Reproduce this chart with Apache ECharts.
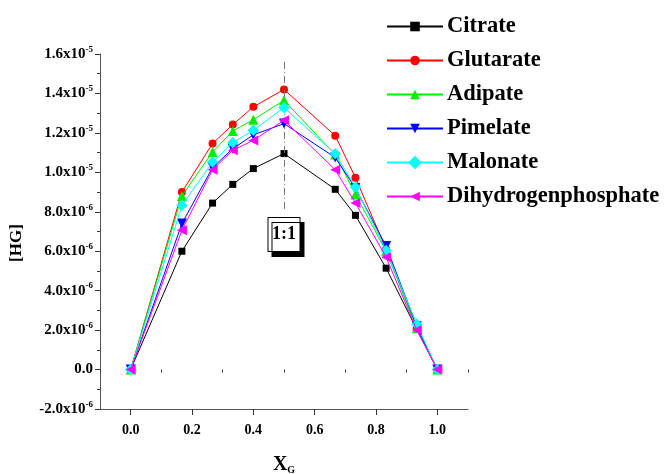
<!DOCTYPE html>
<html><head><meta charset="utf-8">
<script src="https://cdn.jsdelivr.net/npm/echarts@6/dist/echarts.min.js"></script>
<style>html,body{margin:0;padding:0;background:#fff}#c{width:669px;height:474px}</style>
</head><body><div id="c"></div>
<script>
const xG = [0, 0.167, 0.267, 0.333, 0.4, 0.5, 0.667, 0.733, 0.833, 0.933, 1.0];
const citrate   = [0, 6.0e-6, 8.44e-6, 9.39e-6, 10.19e-6, 10.95e-6, 9.14e-6, 7.82e-6, 5.14e-6, 2.03e-6, 0];
const glutarate = [0, 9.0e-6, 11.46e-6, 12.42e-6, 13.32e-6, 14.2e-6, 11.86e-6, 9.73e-6, 6.1e-6, 2.1e-6, 0];
const adipate   = [0, 8.8e-6, 11.03e-6, 12.1e-6, 12.67e-6, 13.65e-6, 10.9e-6, 8.88e-6, 6.0e-6, 2.1e-6, 0];
const pimelate  = [0, 7.4e-6, 10.24e-6, 11.2e-6, 11.9e-6, 12.47e-6, 10.75e-6, 9.2e-6, 6.26e-6, 2.2e-6, 0];
const malonate  = [0, 8.32e-6, 10.52e-6, 11.5e-6, 12.13e-6, 13.28e-6, 10.95e-6, 9.25e-6, 6.04e-6, 2.3e-6, 0];
const dhp       = [0, 7.06e-6, 10.13e-6, 11.12e-6, 11.62e-6, 12.64e-6, 10.13e-6, 8.44e-6, 5.7e-6, 2.0e-6, 0];
const names = ['Citrate','Glutarate','Adipate','Pimelate','Malonate','Dihydrogenphosphate'];
const xMajorTicks = [0, 0.2, 0.4, 0.6, 0.8, 1.0];
const xMinorTicks = [-0.1, 0.1, 0.3, 0.5, 0.7, 0.9, 1.1];
const ratioLabel = '1:1';
const yTitle = '[HG]';

const values = [citrate, glutarate, adipate, pimelate, malonate, dhp];
const colors = ['#000000','#ff0000','#00ee00','#0000ff','#00ffff','#ff00ff'];
const symbols = ['rect','circle','triangle','triangle','rect','triangle'];
const rots = [0,0,0,180,45,90];
const sizes = [7,8,10,10,8,10];
const FF = '"Liberation Serif","Times New Roman",serif';

function yFmt(v){
  const n = Math.round(v/1e-7);
  if (n === 0) return '0.0';
  if (Math.abs(n) >= 100) return '{m|' + (n/100).toFixed(1) + 'x10}{s|-5}';
  return '{m|' + (n/10).toFixed(1) + 'x10}{s|-6}';
}

const series = names.map((nm,i)=>({
  name: nm, type:'line',
  data: xG.map((x,j)=>[x, values[i][j]]),
  symbol: symbols[i], symbolRotate: rots[i], symbolSize: sizes[i],
  lineStyle:{color:colors[i], width:1},
  itemStyle:{color:colors[i]},
  z: 2+i
}));
series[0].markLine = {
  silent:true, symbol:['none','none'], label:{show:false},
  lineStyle:{color:'#777', type:[7,3,1,3], width:1},
  data:[[{coord:[0.5,1.56e-5]},{coord:[0.5,8.1e-6]}]]
};
series[0].markPoint = {
  silent:true,
  symbol:'rect', symbolSize:[32,34],
  itemStyle:{color:'#fff', borderColor:'#000', borderWidth:1, shadowColor:'#000', shadowBlur:0, shadowOffsetX:4, shadowOffsetY:5},
  label:{show:true, position:'inside', formatter: ratioLabel, color:'#000', fontFamily:FF, fontWeight:'bold', fontSize:18},
  data:[{coord:[0.5, 6.85e-6]}]
};

const chart = echarts.init(document.getElementById('c'), null, {renderer:'canvas'});
chart.setOption({
  animation:false,
  backgroundColor:'#fff',
  grid:{left:100, right:201, top:54, bottom:65, containLabel:false, outerBoundsMode:'none'},
  graphic:[{
    type:'text', x:17, y:243, rotation:Math.PI/2,
    style:{text:yTitle, fill:'#000', font:'bold 17px ' + FF, align:'center', verticalAlign:'middle'}
  }],
  legend:{
    orient:'vertical', left:381, top:10,
    itemWidth:56, itemHeight:12, itemGap:11,
    data:names,
    textStyle:{fontFamily:FF, fontWeight:'bold', fontSize:22.5, color:'#000', lineHeight:22, padding:[0,0,0,-1]}
  },
  xAxis:[{
    type:'value', min:-0.1, max:1.1,
    name:'{a|X}{b|G}', nameLocation:'middle', nameGap:46,
    nameTextStyle:{rich:{a:{fontFamily:FF,fontWeight:'bold',fontSize:20,color:'#000'},b:{fontFamily:FF,fontWeight:'bold',fontSize:10,color:'#000',verticalAlign:'bottom',padding:[10,0,0,0]}}},
    axisLine:{show:true, onZero:false, lineStyle:{color:'#555', width:1}},
    axisTick:{show:true, customValues:xMajorTicks, length:6, lineStyle:{color:'#333'}},
    axisLabel:{customValues:xMajorTicks, formatter:v=>v.toFixed(1), fontFamily:FF, fontWeight:'bold', fontSize:14, color:'#000', margin:14},
    splitLine:{show:false}
  },{
    type:'value', min:-0.1, max:1.1, position:'bottom',
    axisLine:{show:false},
    axisTick:{show:true, customValues:xMinorTicks, length:3, lineStyle:{color:'#333'}},
    axisLabel:{show:false}, splitLine:{show:false}
  }],
  yAxis:{
    type:'value', min:-2e-6, max:1.6e-5, interval:2e-6,
    axisLine:{show:true, onZero:false, lineStyle:{color:'#555', width:1}},
    axisTick:{show:true, length:5, lineStyle:{color:'#333'}},
    minorTick:{show:true, splitNumber:2, length:3, lineStyle:{color:'#333'}},
    axisLabel:{formatter:yFmt, margin:7, fontFamily:FF, fontWeight:'bold', fontSize:15, color:'#000',
      rich:{m:{fontFamily:FF,fontWeight:'bold',fontSize:15,color:'#000'},s:{fontFamily:FF,fontWeight:'bold',fontSize:9,color:'#000',verticalAlign:'top',padding:[0,0,9,0]}}},
    splitLine:{show:false}
  },
  series: series
});
</script></body></html>
